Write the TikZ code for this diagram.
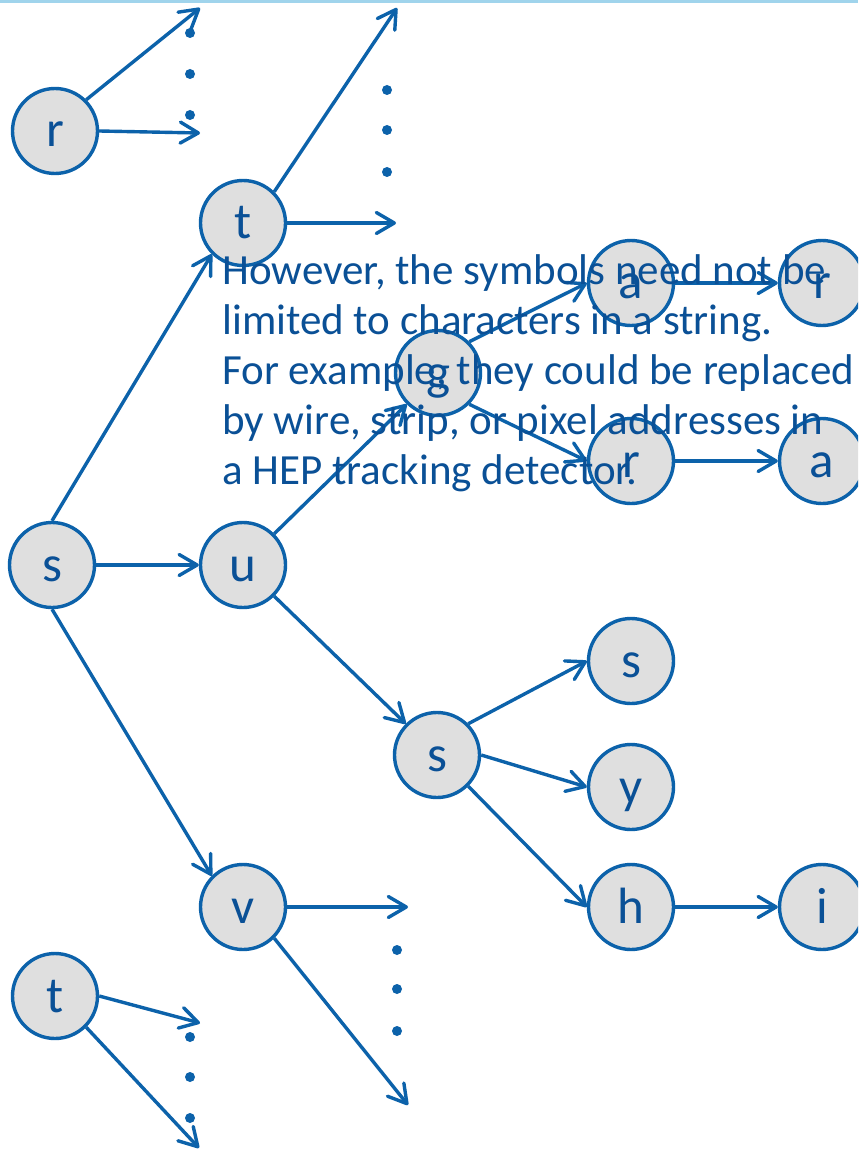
\documentclass[tikz,border=0pt]{standalone}
\usepackage{fontspec}
\setmainfont{Carlito}
\usetikzlibrary{arrows.meta}
\definecolor{edgeblue}{RGB}{12,98,170}
\definecolor{inkblue}{RGB}{10,80,150}
\definecolor{nodefill}{RGB}{223,223,223}
\definecolor{rulecyan}{RGB}{160,212,236}
\begin{document}
\begin{tikzpicture}[x=0.5pt,y=-0.5pt,
  sym/.style={circle, draw=edgeblue, fill=nodefill, line width=1.7pt,
    minimum size=42.5pt, inner sep=0pt, text=inkblue,
    font=\fontsize{25.5pt}{30pt}\selectfont, text height=16pt, text depth=0pt},
  link/.style={draw=edgeblue, line width=1.7pt,
    -{Straight Barb[length=9pt,width=10.5pt,line cap=round,line join=round]}},
  more/.style={fill=edgeblue}]
\useasboundingbox (0,0) rectangle (858,1150);
\clip (0,0) rectangle (858,1150);
\fill[white] (0,0) rectangle (858,1150);
\fill[rulecyan] (0,0) rectangle (858,3);

% symbol nodes
\node[sym] (r1) at (55,131) {r};
\node[sym] (t1) at (243,223) {t};
\node[sym] (s1) at (52,565) {s};
\node[sym] (u)  at (243,565) {u};
\node[sym] (v)  at (243,907) {v};
\node[sym] (t2) at (55,996) {t};
\node[sym] (g)  at (438,373) {g};
\node[sym] (a1) at (631,283) {a};
\node[sym] (r2) at (822,283) {r};
\node[sym] (r3) at (631,461) {r};
\node[sym] (a2) at (822,461) {a};
\node[sym] (s2) at (437,755) {s};
\node[sym] (s3) at (631,661) {s};
\node[sym] (y)  at (631,787) {y};
\node[sym] (h)  at (631,907) {h};
\node[sym] (i)  at (822,907) {i};

% open ends of the branches
\coordinate (r1up) at (200,8);
\coordinate (r1rt) at (200,133);
\coordinate (t1up) at (397,8);
\coordinate (t1rt) at (396,223);
\coordinate (vrt)  at (408,907);
\coordinate (vdn)  at (408,1105);
\coordinate (t2rt) at (200,1023);
\coordinate (t2dn) at (199,1148);

% connectors
\draw[link] (r1.north east) -- (r1up);
\draw[link] (r1.east) -- (r1rt);
\draw[link] (t1.north east) -- (t1up);
\draw[link] (t1.east) -- (t1rt);
\draw[link] (s1.north) -- (t1.south west);
\draw[link] (s1.east) -- (u.west);
\draw[link] (s1.south) -- (v.north west);
\draw[link] (u.north east) -- (g.south west);
\draw[link] (u.south east) -- (s2.north west);
\draw[link] (g.north east) -- (a1.west);
\draw[link] (g.south east) -- (r3.west);
\draw[link] (a1.east) -- (r2.west);
\draw[link] (r3.east) -- (a2.west);
\draw[link] (s2.north east) -- (s3.west);
\draw[link] (s2.east) -- (y.west);
\draw[link] (s2.south east) -- (h.west);
\draw[link] (h.east) -- (i.west);
\draw[link] (v.east) -- (vrt);
\draw[link] (v.south east) -- (vdn);
\draw[link] (t2.east) -- (t2rt);
\draw[link] (t2.south east) -- (t2dn);

% ellipsis dots
\foreach \yy in {33,74,115} \fill[more] (190,\yy) circle[radius=2.5pt];
\foreach \yy in {90,130,172} \fill[more] (387,\yy) circle[radius=2.5pt];
\foreach \yy in {950,989,1031} \fill[more] (397,\yy) circle[radius=2.5pt];
\foreach \yy in {1037,1077,1118} \fill[more] (190,\yy) circle[radius=2.5pt];

% note
\node[anchor=north west, inner sep=0pt, align=left, text=inkblue,
  font=\fontsize{21.5pt}{25pt}\selectfont] (note) at (222,254)
  {However, the symbols need not be\\
   limited to characters in a string.\\
   For example, they could be replaced\\
   by wire, strip, or pixel addresses in\\
   a HEP tracking detector.};
\end{tikzpicture}
\end{document}
